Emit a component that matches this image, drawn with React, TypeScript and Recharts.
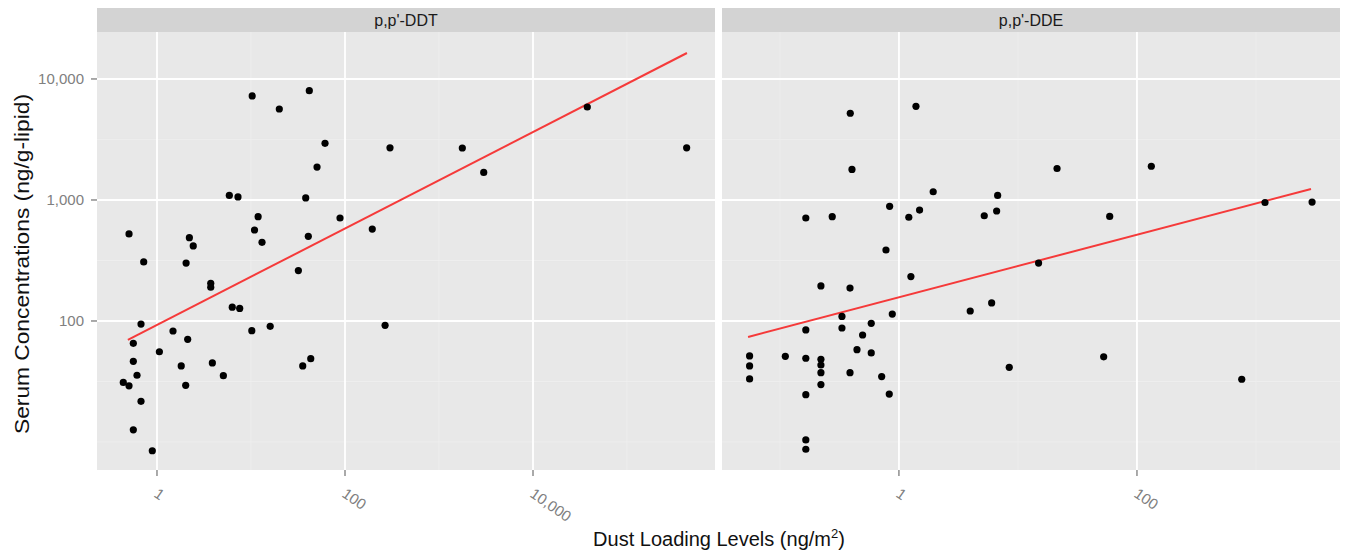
import { CartesianGrid, ReferenceLine, Scatter, ScatterChart, XAxis, YAxis } from 'recharts'

// p,p'-DDT panel
const ddtDust = [
  10.3, 20.0, 41.7, 61.3, 301, 50.4, 5.88, 7.27, 38.2, 88.5,
  11.9, 10.9, 195, 40.7, 0.504, 2.21, 2.43, 13.1, 0.722, 2.04,
  31.9, 3.73, 3.73, 6.32, 7.58, 0.676, 1.48, 2.12, 10.2, 16.0,
  267, 0.56, 1.06, 0.56, 1.81, 3.88, 35.5, 43.2, 0.613, 5.08,
  0.438, 0.504, 2.02, 0.676, 0.56, 0.891, 37800, 1770, 2990, 431000,
]
const ddtSerum = [
  7240, 5650, 8000, 2940, 2700, 1870, 1090, 1060, 1040, 710,
  728, 565, 575, 501, 524, 488, 417, 447, 308, 301,
  261, 205, 190, 130, 127, 94.4, 82.7, 70.6, 83.2, 90.4,
  92.1, 65.4, 55.7, 46.4, 42.5, 45.0, 42.5, 48.8, 35.6, 35.3,
  31.1, 29.1, 29.4, 21.7, 12.6, 8.47, 5870, 2690, 1690, 2700,
]
const ddtFitDust = [0.49, 434000]
const ddtFitSerum = [69.7, 16400]

// p,p'-DDE panel
const ddeDust = [
  0.39, 1.39, 0.403, 1.94, 6.75, 0.835, 0.165, 0.275, 1.21, 1.49,
  5.21, 6.62, 0.778, 14.9, 1.26, 0.221, 0.388, 0.332, 0.879, 3.97,
  6.01, 0.165, 0.332, 0.585, 0.495, 0.444, 0.585, 0.0556, 0.0556, 0.0556,
  0.111, 0.165, 0.221, 0.221, 0.221, 0.221, 0.388, 0.716, 0.829, 0.165,
  8.45, 0.165, 0.165, 21.3, 132, 59.0, 1190, 2960, 52.5, 759,
]
const ddeSerum = [
  5210, 5940, 1790, 1170, 1090, 887, 710, 728, 720, 826,
  741, 811, 386, 301, 233, 195, 187, 109, 114, 121,
  141, 84.3, 87.5, 95.7, 76.6, 57.9, 54.5, 51.4, 42.5, 33.2,
  51.1, 49.2, 48.2, 43.3, 37.4, 29.8, 37.4, 34.7, 24.9, 24.6,
  41.4, 10.4, 8.71, 1820, 1900, 731, 953, 961, 50.6, 33.0,
]
const ddeFitDust = [0.054, 2900]
const ddeFitSerum = [73.8, 1233]

const serumTicks = [100, 1000, 10000]
const serumMinor = [10, 31.6, 316, 3162]
const serumDomain = [5.87, 24450]

const ddtTicks = [1, 100, 10000]
const ddtMinor = [10, 1000, 100000]
const ddtDomain = [0.23, 863000]

const ddeTicks = [1, 100]
const ddeMinor = [0.1, 10, 1000]
const ddeDomain = [0.0326, 5080]

const FONT = '"Liberation Sans", Arial, Helvetica, sans-serif'
const fmt = (v: number) => v.toLocaleString('en-US')

function XTick({ x, y, payload }: any) {
  const tx = x - 4
  const ty = y + 18
  return (
    <text x={tx} y={ty} transform={`rotate(35 ${tx} ${ty})`} fill="#808080" fontSize={15} fontFamily={FONT}>
      {fmt(payload.value)}
    </text>
  )
}

interface PanelProps {
  title: string
  dust: number[]
  serum: number[]
  fitDust: number[]
  fitSerum: number[]
  ticks: number[]
  minor: number[]
  domain: number[]
  showY: boolean
  left: number
  width: number
  margin: { top: number; right: number; bottom: number; left: number }
}

function Panel(p: PanelProps) {
  const data = p.dust.map((d, i) => ({ dust: d, serum: p.serum[i] }))
  const plotLeft = p.left + p.margin.left + (p.showY ? 97 : 0)
  const plotRight = p.left + p.width - p.margin.right
  return (
    <>
      <div
        style={{
          position: 'absolute', left: plotLeft, top: 8, width: plotRight - plotLeft, height: 24,
          background: '#d3d3d3', color: '#1a1a1a', fontFamily: FONT, fontSize: 16,
          textAlign: 'center', lineHeight: '25px',
        }}
      >
        {p.title}
      </div>
      <div style={{ position: 'absolute', left: p.left, top: 0 }}>
        <ScatterChart width={p.width} height={558} margin={p.margin}>
          <CartesianGrid fill="#e8e8e8" horizontal={false} vertical={false} />
          <XAxis
            dataKey="dust" type="number" scale="log" domain={p.domain} allowDataOverflow
            ticks={p.ticks} height={88} axisLine={false} tickSize={6}
            tickLine={{ stroke: '#555' }} tick={<XTick />} interval={0}
          />
          <YAxis
            dataKey="serum" type="number" scale="log" domain={serumDomain} allowDataOverflow
            ticks={serumTicks} width={97} hide={!p.showY} axisLine={false} tickSize={6} tickMargin={7}
            tickLine={{ stroke: '#555' }} tickFormatter={fmt} interval={0}
            tick={{ fill: '#808080', fontSize: 15, fontFamily: FONT }}
          />
          {serumMinor.map(v => <ReferenceLine key={'ym' + v} y={v} stroke="#efefef" strokeWidth={0.8} />)}
          {p.minor.map(v => <ReferenceLine key={'xm' + v} x={v} stroke="#efefef" strokeWidth={0.8} />)}
          {serumTicks.map(v => <ReferenceLine key={'y' + v} y={v} stroke="#fff" strokeWidth={1.8} />)}
          {p.ticks.map(v => <ReferenceLine key={'x' + v} x={v} stroke="#fff" strokeWidth={1.8} />)}
          <Scatter
            data={data} isAnimationActive={false}
            shape={(s: any) => <circle cx={s.cx} cy={s.cy} r={3.6} fill="#000" />}
          />
          <ReferenceLine
            segment={[{ x: p.fitDust[0], y: p.fitSerum[0] }, { x: p.fitDust[1], y: p.fitSerum[1] }]}
            stroke="#f53a3a" strokeWidth={2}
          />
        </ScatterChart>
      </div>
    </>
  )
}

export default function App() {
  return (
    <div style={{ position: 'absolute', left: 0, top: 0, width: 1350, height: 558, background: '#fff' }}>
      <Panel
        title="p,p'-DDT" dust={ddtDust} serum={ddtSerum} fitDust={ddtFitDust} fitSerum={ddtFitSerum}
        ticks={ddtTicks} minor={ddtMinor} domain={ddtDomain} showY left={0} width={717}
        margin={{ top: 32, right: 2, bottom: 0, left: 0 }}
      />
      <Panel
        title="p,p'-DDE" dust={ddeDust} serum={ddeSerum} fitDust={ddeFitDust} fitSerum={ddeFitSerum}
        ticks={ddeTicks} minor={ddeMinor} domain={ddeDomain} showY={false} left={717} width={633}
        margin={{ top: 32, right: 10, bottom: 0, left: 5 }}
      />
      <svg width={1350} height={558} style={{ position: 'absolute', left: 0, top: 0, pointerEvents: 'none' }}>
        <text x={719} y={546} textAnchor="middle" fontSize={20} fontFamily={FONT} fill="#111">
          Dust Loading Levels (ng/m<tspan dy={-8} fontSize={13}>2</tspan><tspan dy={8}>)</tspan>
        </text>
        <text
          x={29} y={264} textAnchor="middle" fontSize={21} fontFamily={FONT} fill="#111"
          textLength={340} lengthAdjust="spacingAndGlyphs"
          transform="rotate(-90 29 264)"
        >
          Serum Concentrations (ng/g-lipid)
        </text>
      </svg>
    </div>
  )
}
